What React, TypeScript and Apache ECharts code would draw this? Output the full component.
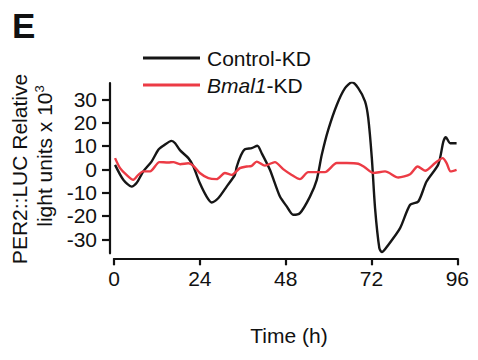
import React, { useEffect, useRef } from "react";
import * as echarts from "echarts";

// Time points (h) and relative PER2::LUC light units (x10^3)
const controlTime = [
  0.3, 2.6, 4.9, 6.3, 8.2, 10.5, 12.4, 13.8, 16.1, 17.1, 18.5, 20.8, 22.2, 24.0,
  25.9, 27.3, 29.2, 31.5, 33.8, 34.3, 35.5, 36.6, 38.5, 40.1, 41.3, 43.6, 46.4,
  48.3, 50.1, 52.0, 54.8, 56.7, 58.1, 59.9, 62.3, 64.6, 66.5, 68.3, 70.2, 71.1,
  72.1, 73.0, 74.2, 74.9, 76.7, 80.0, 82.8, 85.1, 87.4, 90.7, 92.1, 92.8, 94.0,
  95.8,
];
const controlValues = [
  1.9, -4.5, -7.4, -5.9, -0.9, 3.3, 8.4, 10.1, 12.2, 11.2, 8.1, 4.8, 1.2, -5.9,
  -11.7, -14.2, -12.3, -7.4, -2.4, 1.0, 6.0, 8.6, 9.1, 10.1, 6.9, -0.2, -11.7,
  -15.9, -19.5, -18.8, -11.7, -4.5, 6.2, 16.9, 27.6, 34.8, 37.3, 34.8, 29.1, 21.9,
  4.8, -16.6, -33.8, -35.5, -32.4, -25.2, -15.2, -13.8, -5.2, 2.2, 11.9, 13.8,
  11.2, 11.2,
];

const bmalTime = [
  0.3, 1.7, 3.5, 5.4, 6.8, 8.2, 10.1, 12.7, 15.2, 16.6, 18.5, 20.8, 22.2, 24.0,
  26.4, 28.7, 31.0, 32.9, 35.2, 37.1, 38.5, 39.9, 42.2, 45.0, 47.3, 49.7, 52.0,
  54.3, 56.7, 59.0, 62.3, 65.1, 68.3, 70.0, 72.5, 75.8, 79.5, 82.8, 84.9, 87.0,
  89.8, 91.9, 93.0, 94.1, 95.8,
];
const bmalValues = [
  4.8, 0.5, -2.4, -4.5, -2.4, -0.9, -0.9, 3.1, 2.9, 3.1, 2.2, 2.6, 1.5, -1.6,
  -3.8, -4.2, -1.6, -2.4, 0.5, 1.2, 1.5, 3.3, 1.6, 3.1, 0.1, -2.4, -4.2, -1.2,
  -1.2, -1.2, 2.7, 2.7, 2.4, 1.0, -1.6, -0.9, -3.5, -2.1, 1.2, -0.6, 2.7, 4.8,
  2.7, -0.9, -0.2,
];

const xTicks = [0, 24, 48, 72, 96];
const yTicks = [-30, -20, -10, 0, 10, 20, 30];

const FONT = "'Liberation Sans', Arial, Helvetica, sans-serif";
const INK = "#111111";

export default function App() {
  const ref = useRef<HTMLDivElement>(null);

  useEffect(() => {
    if (!ref.current) return;
    const chart = echarts.init(ref.current, undefined, { renderer: "svg" });

    const pairs = (xs: number[], ys: number[]) => xs.map((x, i) => [x, ys[i]]);

    chart.setOption({
      animation: false,
      backgroundColor: "#ffffff",
      textStyle: { fontFamily: FONT },
      grid: { left: 114, right: 20.7, top: 83, bottom: 106.7 },
      legend: {
        orient: "vertical",
        left: 138,
        top: 42,
        itemWidth: 57,
        itemHeight: 3,
        itemGap: 5,
        icon: "rect",
        data: ["Control-KD", "Bmal1-KD"],
        formatter: (name: string) =>
          name === "Bmal1-KD" ? "{i|Bmal1}{n|-KD}" : "{n|" + name + "}",
        textStyle: {
          fontFamily: FONT,
          fontSize: 21,
          color: INK,
          lineHeight: 22,
          padding: [0, 0, 0, 2],
          rich: {
            i: { fontFamily: FONT, fontSize: 21, fontStyle: "italic", color: INK },
            n: { fontFamily: FONT, fontSize: 21, color: INK },
          },
        },
      },
      xAxis: {
        type: "value",
        min: xTicks[0],
        max: xTicks[xTicks.length - 1],
        interval: 24,
        offset: 5,
        axisLine: { onZero: false, lineStyle: { color: INK, width: 2.2 } },
        axisTick: { length: 7, lineStyle: { color: INK, width: 2.2 } },
        axisLabel: { fontFamily: FONT, fontSize: 21, color: INK, margin: 10 },
        splitLine: { show: false },
      },
      yAxis: {
        type: "value",
        min: -36,
        max: 37,
        offset: 4,
        axisLine: { show: true, onZero: false, lineStyle: { color: INK, width: 2.2 } },
        axisTick: {
          show: true,
          length: 8,
          customValues: yTicks,
          lineStyle: { color: INK, width: 2.2 },
        },
        axisLabel: {
          fontFamily: FONT,
          fontSize: 21,
          color: INK,
          margin: 13,
          customValues: yTicks,
        },
        splitLine: { show: false },
      },
      series: [
        {
          name: "Control-KD",
          type: "line",
          data: pairs(controlTime, controlValues),
          showSymbol: false,
          smooth: 0.25,
          color: "#161616",
          lineStyle: { color: "#161616", width: 2.4 },
          z: 2,
        },
        {
          name: "Bmal1-KD",
          type: "line",
          data: pairs(bmalTime, bmalValues),
          showSymbol: false,
          smooth: 0.25,
          color: "#ec3b45",
          lineStyle: { color: "#ec3b45", width: 2.4 },
          z: 3,
        },
      ],
      graphic: [
        {
          type: "text",
          left: 12,
          top: 8,
          style: {
            text: "E",
            fontFamily: FONT,
            fontSize: 35,
            fontWeight: "bold",
            fill: INK,
          },
        },
        {
          type: "text",
          x: 19,
          y: 169,
          rotation: Math.PI / 2,
          style: {
            text: "PER2::LUC Relative",
            fontFamily: FONT,
            fontSize: 21,
            fill: INK,
            textAlign: "center",
            textVerticalAlign: "middle",
          },
        },
        {
          type: "text",
          x: 44,
          y: 156,
          rotation: Math.PI / 2,
          style: {
            text: "light units x 10{sup|3}",
            fontFamily: FONT,
            fontSize: 21,
            fill: INK,
            textAlign: "center",
            textVerticalAlign: "middle",
            rich: {
              sup: {
                fontFamily: FONT,
                fontSize: 13,
                fill: INK,
                padding: [0, 0, 10, 0],
              },
            },
          },
        },
        {
          type: "text",
          x: 289,
          y: 335,
          style: {
            text: "Time (h)",
            fontFamily: FONT,
            fontSize: 21,
            fill: INK,
            textAlign: "center",
            textVerticalAlign: "middle",
          },
        },
      ],
    });

    return () => chart.dispose();
  }, []);

  return <div ref={ref} style={{ width: 478, height: 360, margin: -8 }} />;
}
